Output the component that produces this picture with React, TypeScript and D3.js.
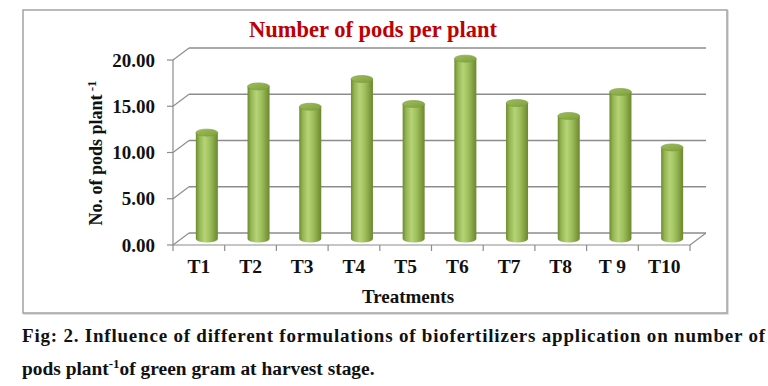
import React from "react";
import * as d3 from "d3";

// chart data
const treatments = ["T1", "T2", "T3", "T4", "T5", "T6", "T7", "T8", "T 9", "T10"];
const podsPerPlant = [11.5, 16.5, 14.3, 17.3, 14.6, 19.5, 14.7, 13.3, 15.9, 9.9];
const yTicks = [0, 5, 10, 15, 20];

const chartTitle = "Number of pods per plant";
const yTitle = "No. of pods  plant";
const xTitle = "Treatments";
const captionLine1 =
  "Fig: 2. Influence of different formulations of biofertilizers application on number of";
const captionLine2a = "pods plant";
const captionLine2b = "of green gram at harvest stage.";

const W = 768;
const H = 386;
const FONT = "'Liberation Serif', 'Times New Roman', serif";

// 3d depth offset of the back wall
const DX = 16;
const DY = -12;

const App = () => {
  const x = d3.scaleBand<string>().domain(treatments).range([173, 690]).paddingInner(0).paddingOuter(0);
  const y = d3.scaleLinear().domain([0, 20]).range([245, 60]);

  const bw = x.bandwidth();
  const barW = 22;
  const rx = barW / 2;
  const ry = 3.5;
  const [x0, x1] = x.range();
  const grid = "#8c8c8c";

  return (
    <svg
      width={W}
      height={H}
      style={{ position: "absolute", left: 0, top: 0, background: "#fff" }}
      fontFamily={FONT}
    >
      <defs>
        <linearGradient id="cyl" x1="0" x2="1" y1="0" y2="0">
          <stop offset="0%" stopColor="#6c8a2f" />
          <stop offset="15%" stopColor="#93b451" />
          <stop offset="40%" stopColor="#b6d477" />
          <stop offset="65%" stopColor="#9dbd5a" />
          <stop offset="100%" stopColor="#6b882e" />
        </linearGradient>
        <linearGradient id="cylTop" x1="0" x2="1" y1="0" y2="1">
          <stop offset="0%" stopColor="#9ebe5c" />
          <stop offset="100%" stopColor="#7f9f3e" />
        </linearGradient>
      </defs>

      {/* outer frame */}
      <rect x={24} y={11} width={704} height={303} fill="none" stroke="#d4d4d4" strokeWidth={1.5} />
      <rect x={23} y={10} width={704} height={303} fill="#fff" stroke="#a3a3a3" strokeWidth={1.5} />

      {/* title */}
      <text x={373} y={37} textAnchor="middle" fontSize={22.5} fontWeight="bold" fill="#c00000">
        {chartTitle}
      </text>

      {/* back wall gridlines + side wall diagonals */}
      {yTicks.map((t) => (
        <g key={t}>
          <line x1={x0 + DX} x2={x1 + DX} y1={y(t) + DY} y2={y(t) + DY} stroke={grid} strokeWidth={1.3} />
          <line x1={x0} x2={x0 + DX} y1={y(t)} y2={y(t) + DY} stroke={grid} strokeWidth={1.1} />
        </g>
      ))}
      {/* floor right edge */}
      <line x1={x1} x2={x1 + DX} y1={y(0)} y2={y(0) + DY} stroke={grid} strokeWidth={1.1} />

      {/* bars as cylinders */}
      {podsPerPlant.map((v, i) => {
        const cx = (x(treatments[i]) as number) + bw / 2 + DX / 2;
        const yb = y(0) + DY / 2;
        const yt = y(v) + DY / 2;
        const l = cx - rx;
        const r = cx + rx;
        return (
          <g key={treatments[i]}>
            <path
              d={`M${l},${yt} L${l},${yb} A${rx},${ry} 0 0 0 ${r},${yb} L${r},${yt} Z`}
              fill="url(#cyl)"
            />
            <ellipse cx={cx} cy={yt} rx={rx} ry={ry} fill="url(#cylTop)" stroke="#7a9a3a" strokeWidth={0.6} />
          </g>
        );
      })}

      {/* y axis */}
      <line x1={x0} x2={x0} y1={y(20)} y2={y(0)} stroke={grid} strokeWidth={1.2} />
      {yTicks.map((t) => (
        <g key={"yt" + t}>
          <line x1={x0 - 6} x2={x0} y1={y(t)} y2={y(t)} stroke={grid} strokeWidth={1.2} />
          <text x={155} y={y(t)} dy="0.35em" textAnchor="end" fontSize={19} fontWeight="bold" fill="#111">
            {d3.format(".2f")(t)}
          </text>
        </g>
      ))}

      {/* x axis */}
      <line x1={x0} x2={x1} y1={y(0)} y2={y(0)} stroke={grid} strokeWidth={1.2} />
      {d3.range(treatments.length + 1).map((i) => (
        <line key={"xt" + i} x1={x0 + i * bw} x2={x0 + i * bw} y1={y(0)} y2={y(0) + 6} stroke={grid} strokeWidth={1.2} />
      ))}
      {treatments.map((c) => (
        <text key={"xl" + c} x={(x(c) as number) + bw / 2} y={273} textAnchor="middle" fontSize={19.5} fontWeight="bold" fill="#111">
          {c}
        </text>
      ))}

      {/* axis titles */}
      <text x={408} y={303} textAnchor="middle" fontSize={19} fontWeight="bold" fill="#111">
        {xTitle}
      </text>
      <text transform="translate(102,153) rotate(-90)" textAnchor="middle" fontSize={18} fontWeight="bold" fill="#111">
        {yTitle}
        <tspan fontSize={13} dy={-6}> -1</tspan>
      </text>

      {/* caption */}
      <text x={22} y={342} fontSize={19} fontWeight="bold" fill="#111" textLength={743} lengthAdjust="spacing">
        {captionLine1}
      </text>
      <text x={22} y={375} fontSize={19.4} fontWeight="bold" fill="#111">
        {captionLine2a}
        <tspan fontSize={13} dy={-7}>-1</tspan>
        <tspan dy={7}>{captionLine2b}</tspan>
      </text>
    </svg>
  );
};

export default App;
